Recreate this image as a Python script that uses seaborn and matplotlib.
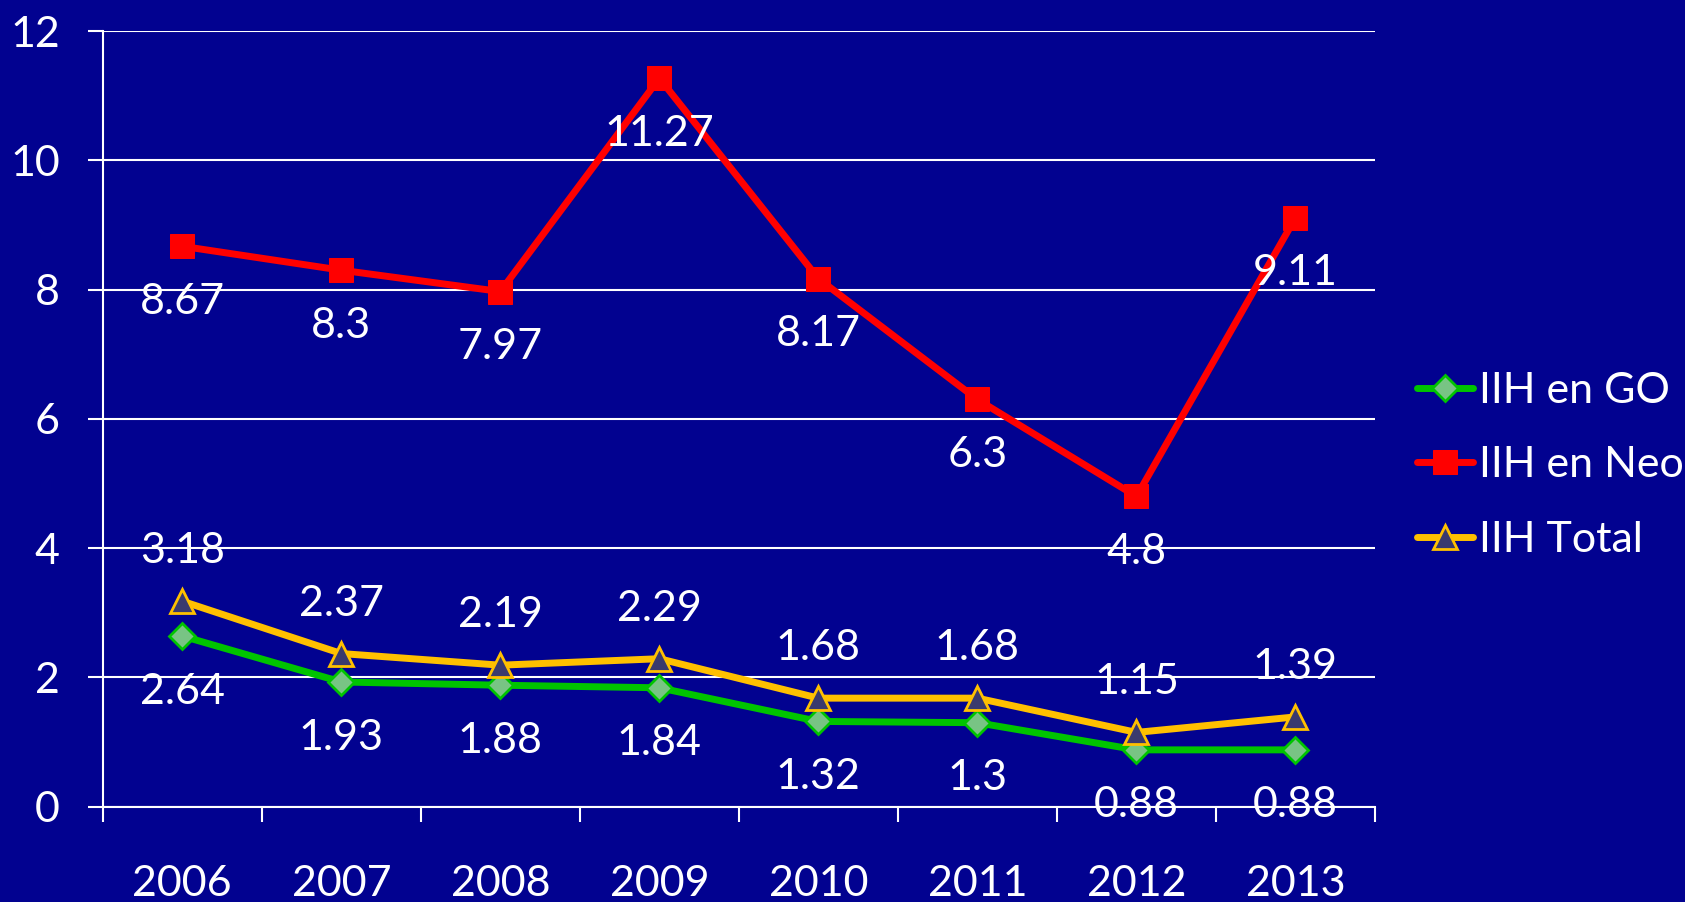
import numpy as np
import pandas as pd
import matplotlib
matplotlib.use('Agg')
import matplotlib.pyplot as plt
import seaborn as sns

years = ['2006', '2007', '2008', '2009', '2010', '2011', '2012', '2013']
iih_go = [2.64, 1.93, 1.88, 1.84, 1.32, 1.30, 0.88, 0.88]
iih_neo = [8.67, 8.30, 7.97, 11.27, 8.17, 6.30, 4.80, 9.11]
iih_total = [3.18, 2.37, 2.19, 2.29, 1.68, 1.68, 1.15, 1.39]
go_labels = ['2.64', '1.93', '1.88', '1.84', '1.32', '1.3', '0.88', '0.88']
neo_labels = ['8.67', '8.3', '7.97', '11.27', '8.17', '6.3', '4.8', '9.11']
total_labels = ['3.18', '2.37', '2.19', '2.29', '1.68', '1.68', '1.15', '1.39']

bg = '#020290'
sns.set_style('white')
plt.rcParams['font.family'] = ['Lato', 'DejaVu Sans']
fs = 31

df = pd.DataFrame({'pos': np.arange(len(years)), 'go': iih_go, 'neo': iih_neo, 'total': iih_total})

fig = plt.figure(figsize=(16.85, 9.02), dpi=100, facecolor=bg)
ax = fig.add_axes([0.061, 0.1056, 0.755, 0.86])
ax.set_facecolor(bg)

sns.lineplot(data=df, x='pos', y='go', ax=ax, color='#00c400', lw=5, marker='D', markersize=13,
             markerfacecolor='#78c484', markeredgecolor='#00c400', markeredgewidth=2, label='IIH en GO')
sns.lineplot(data=df, x='pos', y='neo', ax=ax, color='#ff0000', lw=5, marker='s', markersize=17,
             markerfacecolor='#ff0000', markeredgecolor='#ff0000', label='IIH en Neo')
sns.lineplot(data=df, x='pos', y='total', ax=ax, color='#ffc000', lw=5, marker='^', markersize=17,
             markerfacecolor='#3a3a6e', markeredgecolor='#ffc000', markeredgewidth=2, label='IIH Total')

# value labels: below for GO and Neo, above for Total
for i in range(len(years)):
    ax.annotate(go_labels[i], (i, iih_go[i]), xytext=(0, -40), textcoords='offset points',
                ha='center', va='center', color='white', fontsize=fs)
    ax.annotate(neo_labels[i], (i, iih_neo[i]), xytext=(0, -40), textcoords='offset points',
                ha='center', va='center', color='white', fontsize=fs)
    ax.annotate(total_labels[i], (i, iih_total[i]), xytext=(0, 36), textcoords='offset points',
                ha='center', va='center', color='white', fontsize=fs)

ax.set_xlim(-0.5, len(years) - 0.5)
ax.set_ylim(0, 12)
ax.set_yticks(range(0, 13, 2))
ax.yaxis.grid(True, color='white', lw=1.5)
ax.set_xticks(np.arange(-0.5, len(years), 1.0))
ax.set_xticklabels([])
ax.set_xticks(np.arange(len(years)), minor=True)
ax.set_xticklabels(years, minor=True)
ax.tick_params(axis='x', which='major', bottom=True, direction='out', length=11, width=1.5, color='white')
ax.tick_params(axis='x', which='minor', bottom=True, length=0, pad=42, labelsize=fs, labelcolor='white')
ax.tick_params(axis='y', left=True, direction='out', length=11, width=1.5, color='white', pad=20,
               labelsize=fs, labelcolor='white')
for s in ['top', 'right']:
    ax.spines[s].set_visible(False)
for s in ['left', 'bottom']:
    ax.spines[s].set_color('white')
    ax.spines[s].set_linewidth(1.5)
ax.set_xlabel('')
ax.set_ylabel('')

leg = ax.legend(loc='center left', bbox_to_anchor=(1.033, 0.44), frameon=False, fontsize=31,
                labelcolor='white', handlelength=1.3, handletextpad=0.14, labelspacing=0.85,
                borderaxespad=0, borderpad=0)

fig.savefig('out.png', dpi=100, facecolor=bg)
